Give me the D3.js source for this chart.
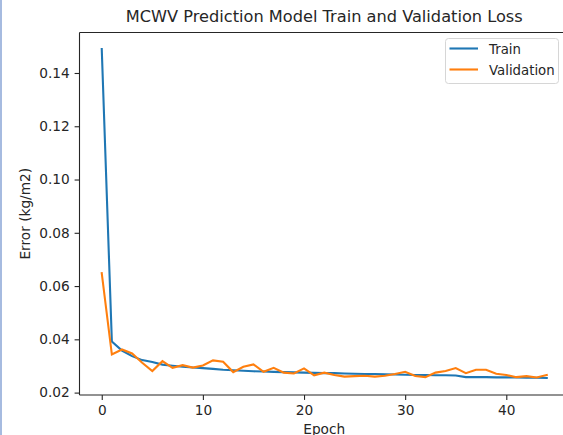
<!DOCTYPE html>
<html>
<head>
<meta charset="utf-8">
<script src="https://cdn.jsdelivr.net/npm/d3@7"></script>
<style>
  body { margin: 0; background: #fff; }
  svg { display: block; font-family: "DejaVu Sans", sans-serif; }
</style>
</head>
<body>
<div class="container"></div>
<script>
const epochs = d3.range(45);

const train = [
  0.1490, 0.0392, 0.0358, 0.0337, 0.0322, 0.0315, 0.0305, 0.0301, 0.0297, 0.0294,
  0.0292, 0.0289, 0.0286, 0.0284, 0.0282, 0.0280, 0.0279, 0.0278, 0.0277, 0.0276,
  0.0275, 0.0274, 0.0273, 0.0273, 0.0272, 0.0271, 0.0270, 0.0270, 0.0269, 0.0268,
  0.0267, 0.0266, 0.0266, 0.0265, 0.0265, 0.0264, 0.0258, 0.0258, 0.0258, 0.0257,
  0.0257, 0.0257, 0.0256, 0.0256, 0.0255
];

const validation = [
  0.0648, 0.0343, 0.0362, 0.0347, 0.0312, 0.0281, 0.0318, 0.0293, 0.0303, 0.0294,
  0.0302, 0.0321, 0.0316, 0.0277, 0.0297, 0.0306, 0.0278, 0.0293, 0.0275, 0.0272,
  0.0291, 0.0265, 0.0275, 0.0266, 0.0260, 0.0262, 0.0263, 0.0260, 0.0263, 0.0270,
  0.0278, 0.0262, 0.0258, 0.0275, 0.0281, 0.0292, 0.0273, 0.0286, 0.0286, 0.0271,
  0.0266, 0.0258, 0.0262, 0.0257, 0.0266
];

const xTicks = [0, 10, 20, 30, 40];
const yTicks = [0.02, 0.04, 0.06, 0.08, 0.10, 0.12, 0.14];

const width = 563;
const height = 435;

const plotLeft = 79.5;
const plotRight = 569;
const plotTop = 32.5;
const plotBottom = 395;

const x = d3.scaleLinear().domain([-2.2, 46.2]).range([plotLeft, plotRight]);
const y = d3.scaleLinear().domain([0.0191, 0.1552]).range([plotBottom, plotTop]);

const svg = d3.select('.container')
  .append('svg')
  .attr('width', width)
  .attr('height', height);

// thin blue strip on the left edge
svg.append('rect')
  .attr('x', 0).attr('y', 0)
  .attr('width', 2).attr('height', height)
  .attr('fill', '#a6bbe0');

svg.append('clipPath').attr('id', 'plot')
  .append('rect')
  .attr('x', plotLeft).attr('y', plotTop)
  .attr('width', plotRight - plotLeft).attr('height', plotBottom - plotTop);

const line = d3.line()
  .x((d, i) => x(epochs[i]))
  .y((d) => y(d));

const plot = svg.append('g').attr('clip-path', 'url(#plot)');

plot.append('path')
  .datum(train)
  .attr('d', line)
  .attr('fill', 'none')
  .attr('stroke', '#1f77b4')
  .attr('stroke-width', 2.1)
  .attr('stroke-linecap', 'square');

plot.append('path')
  .datum(validation)
  .attr('d', line)
  .attr('fill', 'none')
  .attr('stroke', '#ff7f0e')
  .attr('stroke-width', 2.1)
  .attr('stroke-linecap', 'square');

const xAxis = d3.axisBottom(x).tickValues(xTicks).tickFormat(d3.format('d'))
  .tickSizeOuter(0).tickSizeInner(4.9).tickPadding(4.9);
const yAxis = d3.axisLeft(y).tickValues(yTicks).tickFormat(d3.format('.2f'))
  .tickSizeOuter(0).tickSizeInner(4.9).tickPadding(4.9);

const gx = svg.append('g')
  .attr('transform', `translate(0, ${plotBottom})`)
  .call(xAxis);
const gy = svg.append('g')
  .attr('transform', `translate(${plotLeft}, 0)`)
  .call(yAxis);

[gx, gy].forEach((g) => {
  g.selectAll('text').attr('font-size', 13.7).attr('fill', '#262626')
    .attr('font-family', '"DejaVu Sans", sans-serif');
  g.selectAll('line').attr('stroke', '#262626').attr('stroke-width', 1.1);
  g.select('.domain').remove();
});

// spines
const spine = (x1, y1, x2, y2) => svg.append('line')
  .attr('x1', x1).attr('y1', y1).attr('x2', x2).attr('y2', y2)
  .attr('stroke', '#262626').attr('stroke-width', 1.1);
spine(plotLeft, plotTop, plotRight, plotTop);
spine(plotLeft, plotBottom, plotRight, plotBottom);
spine(plotLeft, plotTop, plotLeft, plotBottom);

// title and axis labels
const cx = (plotLeft + plotRight) / 2;
svg.append('text')
  .attr('x', cx).attr('y', 22)
  .attr('text-anchor', 'middle')
  .attr('font-size', 16.2)
  .attr('fill', '#262626')
  .text('MCWV Prediction Model Train and Validation Loss');

svg.append('text')
  .attr('x', cx).attr('y', 434)
  .attr('text-anchor', 'middle')
  .attr('font-size', 13.7)
  .attr('fill', '#262626')
  .text('Epoch');

svg.append('text')
  .attr('transform', `translate(30, ${(plotTop + plotBottom) / 2}) rotate(-90)`)
  .attr('text-anchor', 'middle')
  .attr('font-size', 13.7)
  .attr('fill', '#262626')
  .text('Error (kg/m2)');

// legend
const legend = svg.append('g').attr('transform', 'translate(445, 38)');
legend.append('rect')
  .attr('x', 0.5).attr('y', 0.5)
  .attr('width', 113).attr('height', 45)
  .attr('rx', 3)
  .attr('fill', '#fff').attr('fill-opacity', 0.8)
  .attr('stroke', '#d6d6d6');

const items = [['Train', '#1f77b4'], ['Validation', '#ff7f0e']];
items.forEach(([name, color], i) => {
  const ly = 10.5 + i * 21;
  legend.append('line')
    .attr('x1', 4.5).attr('x2', 33)
    .attr('y1', ly).attr('y2', ly)
    .attr('stroke', color).attr('stroke-width', 2.1);
  legend.append('text')
    .attr('x', 44).attr('y', ly + 5)
    .attr('font-size', 13.3)
    .attr('fill', '#262626')
    .text(name);
});
</script>
</body>
</html>
